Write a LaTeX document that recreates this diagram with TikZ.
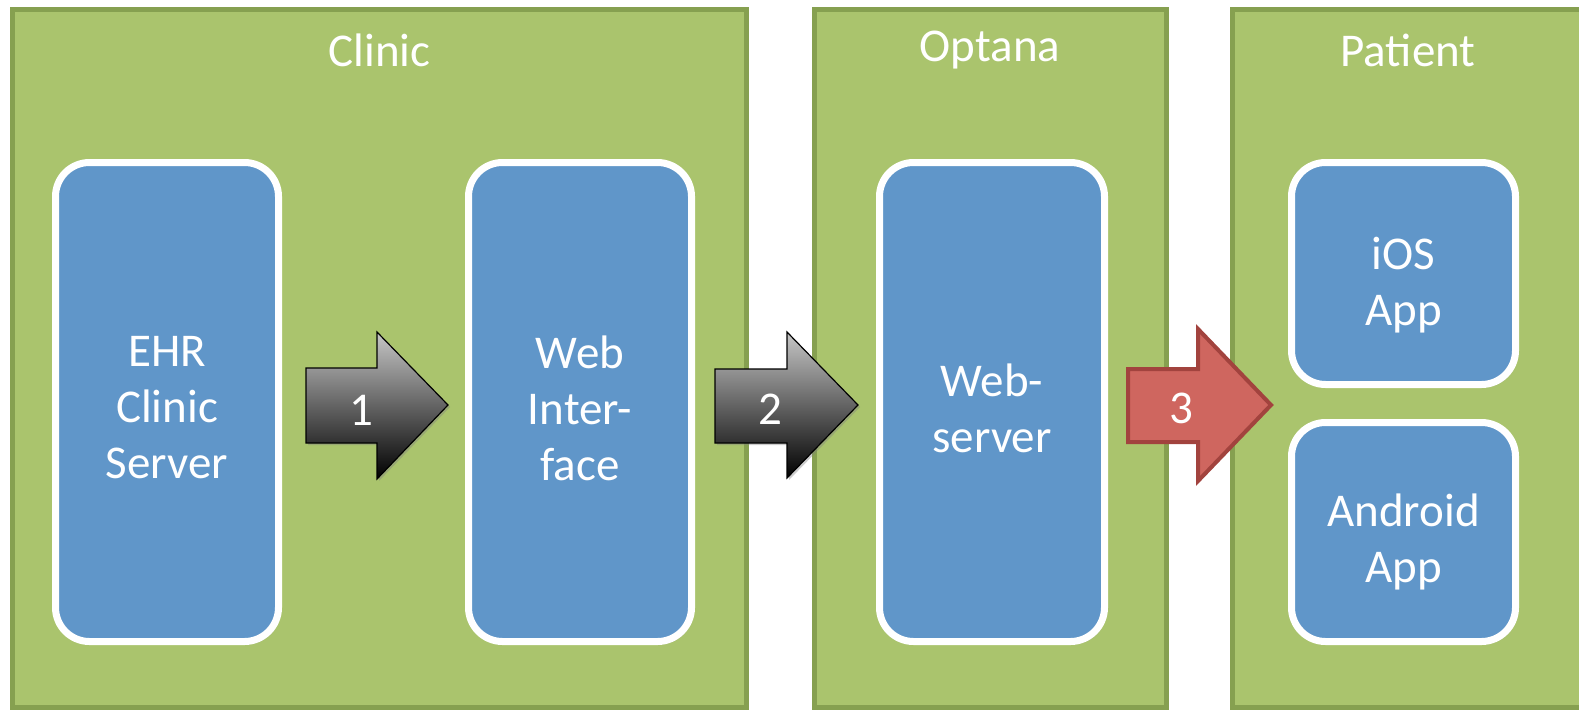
\documentclass[tikz,border=0pt]{standalone}
\usepackage{fontspec}
\setmainfont{Carlito}
\usepackage{tikz}
\usetikzlibrary{shadows}
\definecolor{zonefill}{HTML}{AAC46D}
\definecolor{zoneline}{HTML}{86A050}
\definecolor{appblue}{HTML}{6096C9}
\definecolor{redfill}{HTML}{CF665F}
\definecolor{redline}{HTML}{A2433E}
\newcommand{\bigtext}{\fontsize{47}{56}\selectfont}
\tikzstyle{zone} = [rectangle, draw=zoneline, line width=5pt, fill=zonefill]
\tikzstyle{zonetitle} = [text=white, font=\bigtext]
\tikzstyle{app} = [rectangle, rounded corners=34pt, draw=white, line width=7pt, fill=appblue, minimum width=223pt,
  drop shadow={shadow xshift=2pt, shadow yshift=-3pt, opacity=0.35}]
\tikzstyle{apptext} = [text=white, align=center, font=\bigtext]
\tikzset{
  greyarrow/.style={
    draw=black,
    line width=1.2pt,
    top color=black!22,
    bottom color=black,
    drop shadow={shadow xshift=2pt, shadow yshift=-2pt, opacity=0.4}
    },
  redarrow/.style={
    draw=redline,
    line width=4pt,
    fill=redfill
    },
  numlabel/.style={text=white, font=\bigtext},
}

\begin{document}
\begin{tikzpicture}[x=1pt, y=-1pt]
\useasboundingbox (0,0) rectangle (1579,712);
\clip (0,0) rectangle (1579,712);

% zones
\node (clinic) [zone, minimum width=734pt, minimum height=698pt] at (379.5,358.5) {};
\node (optana) [zone, minimum width=352pt, minimum height=698pt] at (990.5,358.5) {};
\node (patient) [zone, minimum width=351.5pt, minimum height=698pt] at (1408.25,358.5) {};
\node (clinicT) [zonetitle] at (379.5,50) {Clinic};
\node (optanaT) [zonetitle] at (990,50) {Optana};
\node (patientT) [zonetitle] at (1408,50) {Patient};

% boxes
\node (ehr) [app, minimum height=479pt] at (167,402) {};
\node (webif) [app, minimum height=479pt] at (580,402) {};
\node (websrv) [app, minimum width=225pt, minimum height=479pt] at (992,402) {};
\node (ios) [app, minimum width=224pt, minimum height=222pt] at (1403.5,273.5) {};
\node (android) [app, minimum width=224pt, minimum height=219pt] at (1403.5,532) {};
\node (ehrT) [apptext] at ([yshift=-6pt]ehr.center) {EHR\\Clinic\\Server};
\node (webifT) [apptext] at ([yshift=-6pt]webif.center) {Web\\Inter-\\face};
\node (websrvT) [apptext] at ([yshift=-6pt]websrv.center) {Web-\\server};
\node (iosT) [apptext] at ([yshift=-12pt]ios.center) {iOS\\App};
\node (androidT) [apptext] at ([yshift=-10pt]android.center) {Android\\App};

% arrows
\path [greyarrow] (306,368) -- (377,368) -- (377,332) -- (448,405) -- (377,479) -- (377,443) -- (306,443) -- cycle;
\path [greyarrow] (715,369) -- (787,369) -- (787,332) -- (858,405) -- (787,478) -- (787,443) -- (715,443) -- cycle;
\path [redarrow] (1128,369) -- (1198,369) -- (1198,329) -- (1271,405) -- (1198,481) -- (1198,442) -- (1128,442) -- cycle;
\node (one) [numlabel] at (361,410) {1};
\node (two) [numlabel] at (770,409) {2};
\node (three) [numlabel] at (1181,408) {3};

\end{tikzpicture}
\end{document}
